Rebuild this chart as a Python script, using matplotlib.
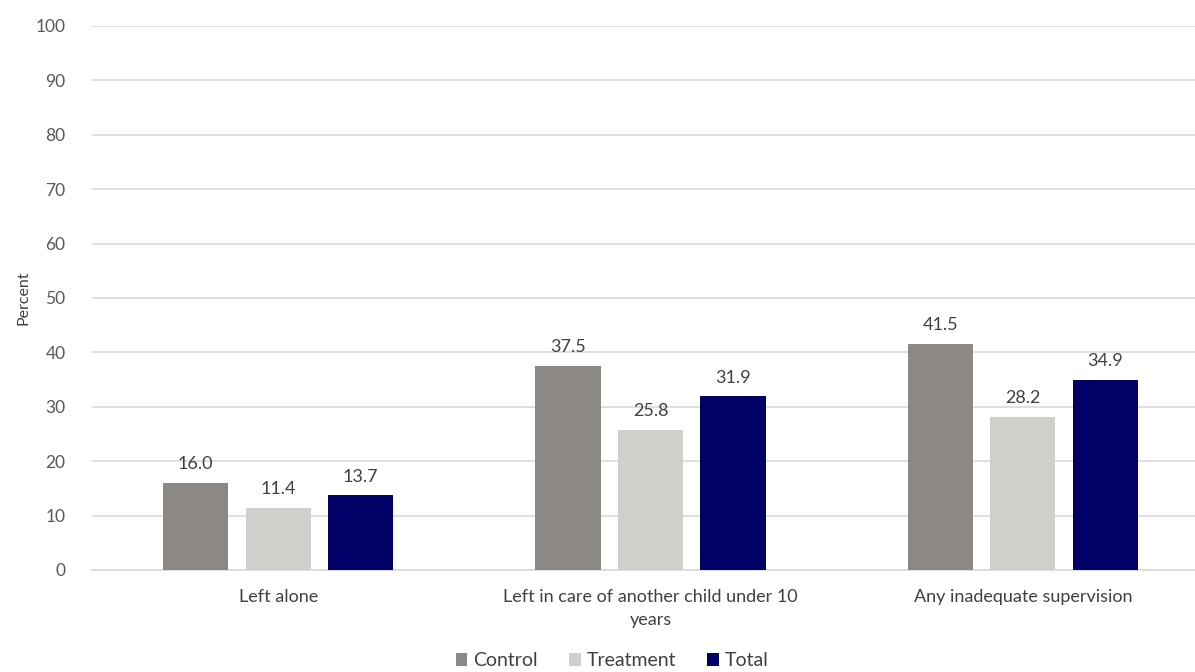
import numpy as np
import matplotlib
matplotlib.use("Agg")
import matplotlib.pyplot as plt

categories = ["Left alone", "Left in care of another child under 10\nyears", "Any inadequate supervision"]
control = [16.0, 37.5, 41.5]
treatment = [11.4, 25.8, 28.2]
total = [13.7, 31.9, 34.9]
series_names = ["Control", "Treatment", "Total"]
colors = ["#8C8984", "#D0CFCB", "#000066"]

plt.rcParams['font.family'] = ['Lato', 'DejaVu Sans']

fig = plt.figure(figsize=(11.95, 6.72), dpi=100)
# the original chart is slightly cropped on the right
ax = fig.add_axes([92 / 1195, 102 / 672, (1209 - 92) / 1195, 544 / 672])

x = np.arange(len(categories))
width = 0.175
offset = 0.2215

for i, (vals, name, c) in enumerate(zip([control, treatment, total], series_names, colors)):
    bars = ax.bar(x + (i - 1) * offset, vals, width, color=c, label=name, zorder=3)
    for b, v in zip(bars, vals):
        ax.text(b.get_x() + b.get_width() / 2, v + 2.0, f"{v:.1f}", ha='center', va='bottom',
                fontsize=13, color='#404040')

ax.set_xlim(-0.5, 2.5)
ax.set_ylim(0, 100)
ax.set_yticks(range(0, 101, 10))
ax.grid(axis='y', color='#D9D9D9', linewidth=1.2, zorder=0)
for s in ['top', 'right', 'left']:
    ax.spines[s].set_visible(False)
ax.spines['bottom'].set_color('#D9D9D9')
ax.spines['bottom'].set_linewidth(1.2)
ax.tick_params(axis='both', length=0, colors='#595959', labelsize=12.5)
ax.tick_params(axis='y', pad=19)
ax.tick_params(axis='x', pad=14)
ax.set_xticks(x)
ax.set_xticklabels(categories, fontsize=13, color='#404040', linespacing=1.5)
ax.set_ylabel("Percent", fontsize=11.5, color='#404040', labelpad=4)

fig.legend(loc='lower center', bbox_to_anchor=(612 / 1195, -0.022), ncol=3, frameon=False,
           fontsize=14, handlelength=0.6, handleheight=0.6, handletextpad=0.3, columnspacing=1.6,
           labelcolor='#404040')

fig.savefig("out.png", dpi=100)
